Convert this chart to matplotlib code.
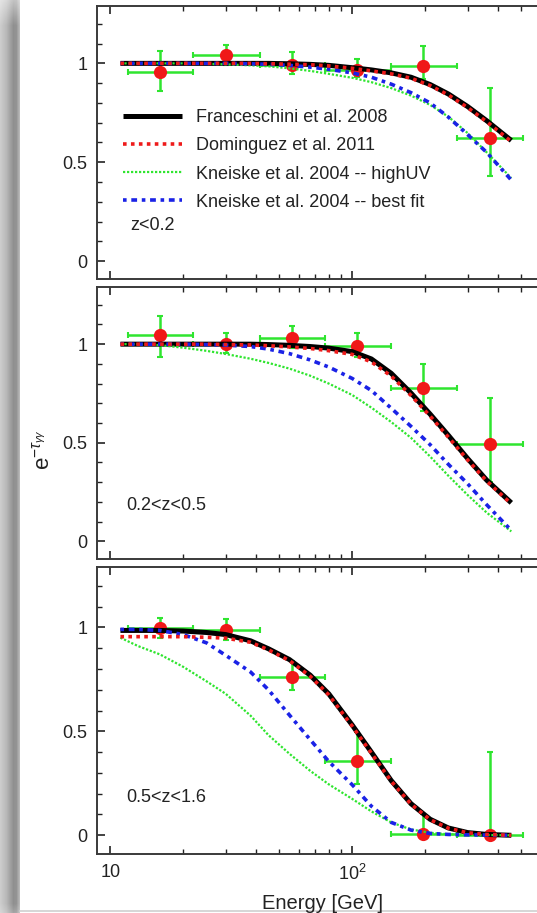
import numpy as np
import matplotlib
matplotlib.use("Agg")
import matplotlib.pyplot as plt
from matplotlib.ticker import FixedLocator, FixedFormatter, MultipleLocator, NullFormatter

plt.rcParams['font.family'] = ['Liberation Sans', 'DejaVu Sans']
plt.rcParams['mathtext.fontset'] = 'custom'
plt.rcParams['mathtext.rm'] = 'Liberation Sans'
plt.rcParams['mathtext.it'] = 'Liberation Sans:italic'

# EBL model attenuation curves, sampled in energy (GeV)
E_MODEL = [11, 13, 16, 20, 25, 30, 38, 45, 55, 67, 80, 100, 120, 145, 175, 210, 250, 300, 360, 455]

fr1 = [1.0, 1.0, 1.0, 1.0, 1.0, 1.0, 1.0, 1.0, 0.998, 0.995, 0.99, 0.978, 0.967, 0.952, 0.93, 0.893, 0.845, 0.782, 0.71, 0.61]
do1 = [1.0, 1.0, 1.0, 1.0, 1.0, 1.0, 1.0, 0.998, 0.996, 0.993, 0.987, 0.975, 0.962, 0.947, 0.925, 0.888, 0.84, 0.777, 0.705, 0.605]
hu1 = [1.0, 1.0, 1.0, 1.0, 0.998, 0.995, 0.99, 0.985, 0.975, 0.962, 0.947, 0.927, 0.905, 0.875, 0.837, 0.79, 0.73, 0.648, 0.55, 0.42]
bf1 = [1.0, 1.0, 1.0, 1.0, 1.0, 1.0, 0.998, 0.995, 0.99, 0.981, 0.97, 0.952, 0.93, 0.895, 0.852, 0.80, 0.728, 0.64, 0.55, 0.41]

fr2 = [1.0, 1.0, 1.0, 1.0, 1.0, 1.0, 1.0, 0.998, 0.994, 0.988, 0.98, 0.962, 0.925, 0.852, 0.752, 0.645, 0.537, 0.42, 0.31, 0.195]
do2 = [1.0, 1.0, 1.0, 1.0, 1.0, 0.998, 0.996, 0.992, 0.986, 0.978, 0.967, 0.948, 0.91, 0.838, 0.74, 0.635, 0.528, 0.413, 0.305, 0.19]
hu2 = [1.0, 1.0, 0.995, 0.982, 0.966, 0.95, 0.926, 0.905, 0.876, 0.84, 0.80, 0.742, 0.678, 0.605, 0.525, 0.43, 0.332, 0.235, 0.145, 0.05]
bf2 = [1.0, 1.0, 1.0, 1.0, 0.998, 0.995, 0.988, 0.975, 0.952, 0.92, 0.884, 0.826, 0.765, 0.675, 0.583, 0.49, 0.39, 0.292, 0.185, 0.055]

fr3 = [0.985, 0.985, 0.985, 0.982, 0.975, 0.965, 0.935, 0.897, 0.845, 0.77, 0.68, 0.53, 0.40, 0.263, 0.152, 0.077, 0.035, 0.013, 0.004, 0.0]
do3 = [0.955, 0.955, 0.955, 0.955, 0.952, 0.948, 0.928, 0.892, 0.84, 0.765, 0.675, 0.525, 0.395, 0.26, 0.15, 0.075, 0.034, 0.012, 0.004, 0.0]
hu3 = [0.95, 0.91, 0.87, 0.81, 0.74, 0.68, 0.575, 0.482, 0.392, 0.31, 0.245, 0.175, 0.115, 0.062, 0.028, 0.012, 0.005, 0.002, 0.001, 0.0]
bf3 = [0.99, 0.99, 0.985, 0.965, 0.925, 0.865, 0.785, 0.70, 0.578, 0.46, 0.355, 0.243, 0.14, 0.062, 0.025, 0.009, 0.004, 0.002, 0.001, 0.0]

# measured points: bin centres and edges (GeV)
E_BIN = [16, 30, 56.5, 105, 197, 370]
E_LO = [11.8, 22, 41.5, 77, 144, 270]
E_HI = [22, 41.5, 77, 144, 270, 510]

y1 = [0.955, 1.04, 0.99, 0.965, 0.985, 0.625]
up1 = [0.11, 0.055, 0.065, 0.055, 0.105, 0.25]
dn1 = [0.095, 0.05, 0.045, 0.035, 0.065, 0.195]

y2 = [1.045, 1.0, 1.03, 0.99, 0.78, 0.495]
up2 = [0.10, 0.055, 0.06, 0.065, 0.12, 0.23]
dn2 = [0.11, 0.045, 0.05, 0.055, 0.12, 0.195]

y3 = [0.995, 0.985, 0.76, 0.355, 0.006, 0.0]
up3 = [0.05, 0.055, 0.08, 0.14, 0.095, 0.40]
dn3 = [0.045, 0.045, 0.06, 0.11, 0.006, 0.0]

ZLABELS = ['z<0.2', '0.2<z<0.5', '0.5<z<1.6']
LEG = ['Franceschini et al. 2008', 'Dominguez et al. 2011',
       'Kneiske et al. 2004 -- highUV', 'Kneiske et al. 2004 -- best fit']

W, H = 537, 913
fig = plt.figure(figsize=(W / 100, H / 100), dpi=100)

# page shadow down the left edge
bg = fig.add_axes([0, 0, 1, 1], zorder=-10)
bg.set_xlim(0, W)
bg.set_ylim(H, 0)
bg.axis('off')
xs = np.arange(20)
shade = np.interp(xs, [0, 6, 13, 16, 19], [0.80, 0.72, 0.56, 0.58, 0.72])
vfade = np.interp(np.arange(H), [0, 25, H - 10, H], [0.55, 1.0, 1.0, 0.8])
img = 1 - (1 - shade[None, :]) * vfade[:, None]
bg.imshow(img, cmap='gray', vmin=0, vmax=1, extent=[0, 20, H, 0], aspect='auto')
bg.plot([20, W], [911.5, 911.5], color='#cfcfcf', lw=1.2)

green = '#2fe52f'
frame = '#3a3a3a'
panels = [(6, 279), (287, 559), (567, 854)]
curves = [(fr1, do1, hu1, bf1), (fr2, do2, hu2, bf2), (fr3, do3, hu3, bf3)]
points = [(y1, up1, dn1), (y2, up2, dn2), (y3, up3, dn3)]
xerr = [[c - lo for c, lo in zip(E_BIN, E_LO)], [hi - c for c, hi in zip(E_BIN, E_HI)]]

axes = []
for i, (top, bot) in enumerate(panels):
    ax = fig.add_axes([97 / W, 1 - bot / H, (594 - 97) / W, (bot - top) / H])
    fr, do, hu, bf = curves[i]
    yy, up, dn = points[i]

    ax.errorbar(E_BIN, yy, xerr=xerr, yerr=[dn, up], fmt='none', ecolor=green,
                elinewidth=1.8, capsize=2.2, capthick=1.5, zorder=2)
    ax.plot(E_BIN, yy, 'o', color='#f01818', ms=9.5, mec='none', zorder=2.5)

    ax.plot(E_MODEL, fr, color='black', lw=3.6, solid_capstyle='butt',
            solid_joinstyle='round', zorder=3, label=LEG[0])
    ax.plot(E_MODEL, do, color='#ee1a1a', lw=2.6, ls=(0, (1.0, 1.2)), zorder=4, label=LEG[1])
    ax.plot(E_MODEL, hu, color=green, lw=1.6, ls=(0, (1.0, 0.8)), zorder=3.5, label=LEG[2])
    ax.plot(E_MODEL, bf, color='#1a22e6', lw=2.6, ls=(0, (1.0, 1.3, 1.6, 1.3)), zorder=3.6, label=LEG[3])

    ax.set_xscale('log')
    ax.set_xlim(8.8, 1000)
    ax.set_ylim(-0.09, 1.29)

    ax.xaxis.set_major_locator(FixedLocator([10, 100, 1000]))
    ax.xaxis.set_minor_locator(FixedLocator([20, 30, 40, 50, 60, 70, 80, 90,
                                             200, 300, 400, 500, 600, 700, 800, 900]))
    ax.xaxis.set_minor_formatter(NullFormatter())
    if i == 2:
        ax.xaxis.set_major_formatter(FixedFormatter(['10', r'$\mathdefault{10^2}$', '']))
    else:
        ax.xaxis.set_major_formatter(NullFormatter())
    ax.yaxis.set_major_locator(FixedLocator([0, 0.5, 1]))
    ax.yaxis.set_major_formatter(FixedFormatter(['0', '0.5', '1']))
    ax.yaxis.set_minor_locator(MultipleLocator(0.1))

    ax.tick_params(which='both', direction='in', top=True, right=True,
                   color='#222222', labelsize=13, labelcolor='#222222')
    ax.tick_params(which='major', length=6, width=1.2, pad=7)
    ax.tick_params(which='minor', length=3.5, width=1.0)
    for s in ax.spines.values():
        s.set_color(frame)
        s.set_linewidth(1.4)

    ax.text(0.066 if i == 0 else 0.058, 0.197, ZLABELS[i], transform=ax.transAxes,
            fontsize=13, color='#222222', va='center', ha='left')
    axes.append(ax)

axes[0].legend(loc='upper left', bbox_to_anchor=(0.052, 0.622), frameon=False,
               fontsize=13, handlelength=3.3, handletextpad=0.75, labelspacing=0.62,
               borderpad=0, borderaxespad=0, labelcolor='#222222')

axes[2].set_xlabel('Energy [GeV]', fontsize=14.5, color='#222222', labelpad=10)
axes[2].xaxis.set_label_coords((323 - 97) / 497, -0.14)
fig.text(43 / W, 1 - 450 / H, r'$\mathrm{e}^{-\tau_{\gamma\gamma}}$', rotation=90,
         fontsize=16, color='#222222', ha='center', va='center')

fig.savefig('out.png', dpi=100)
